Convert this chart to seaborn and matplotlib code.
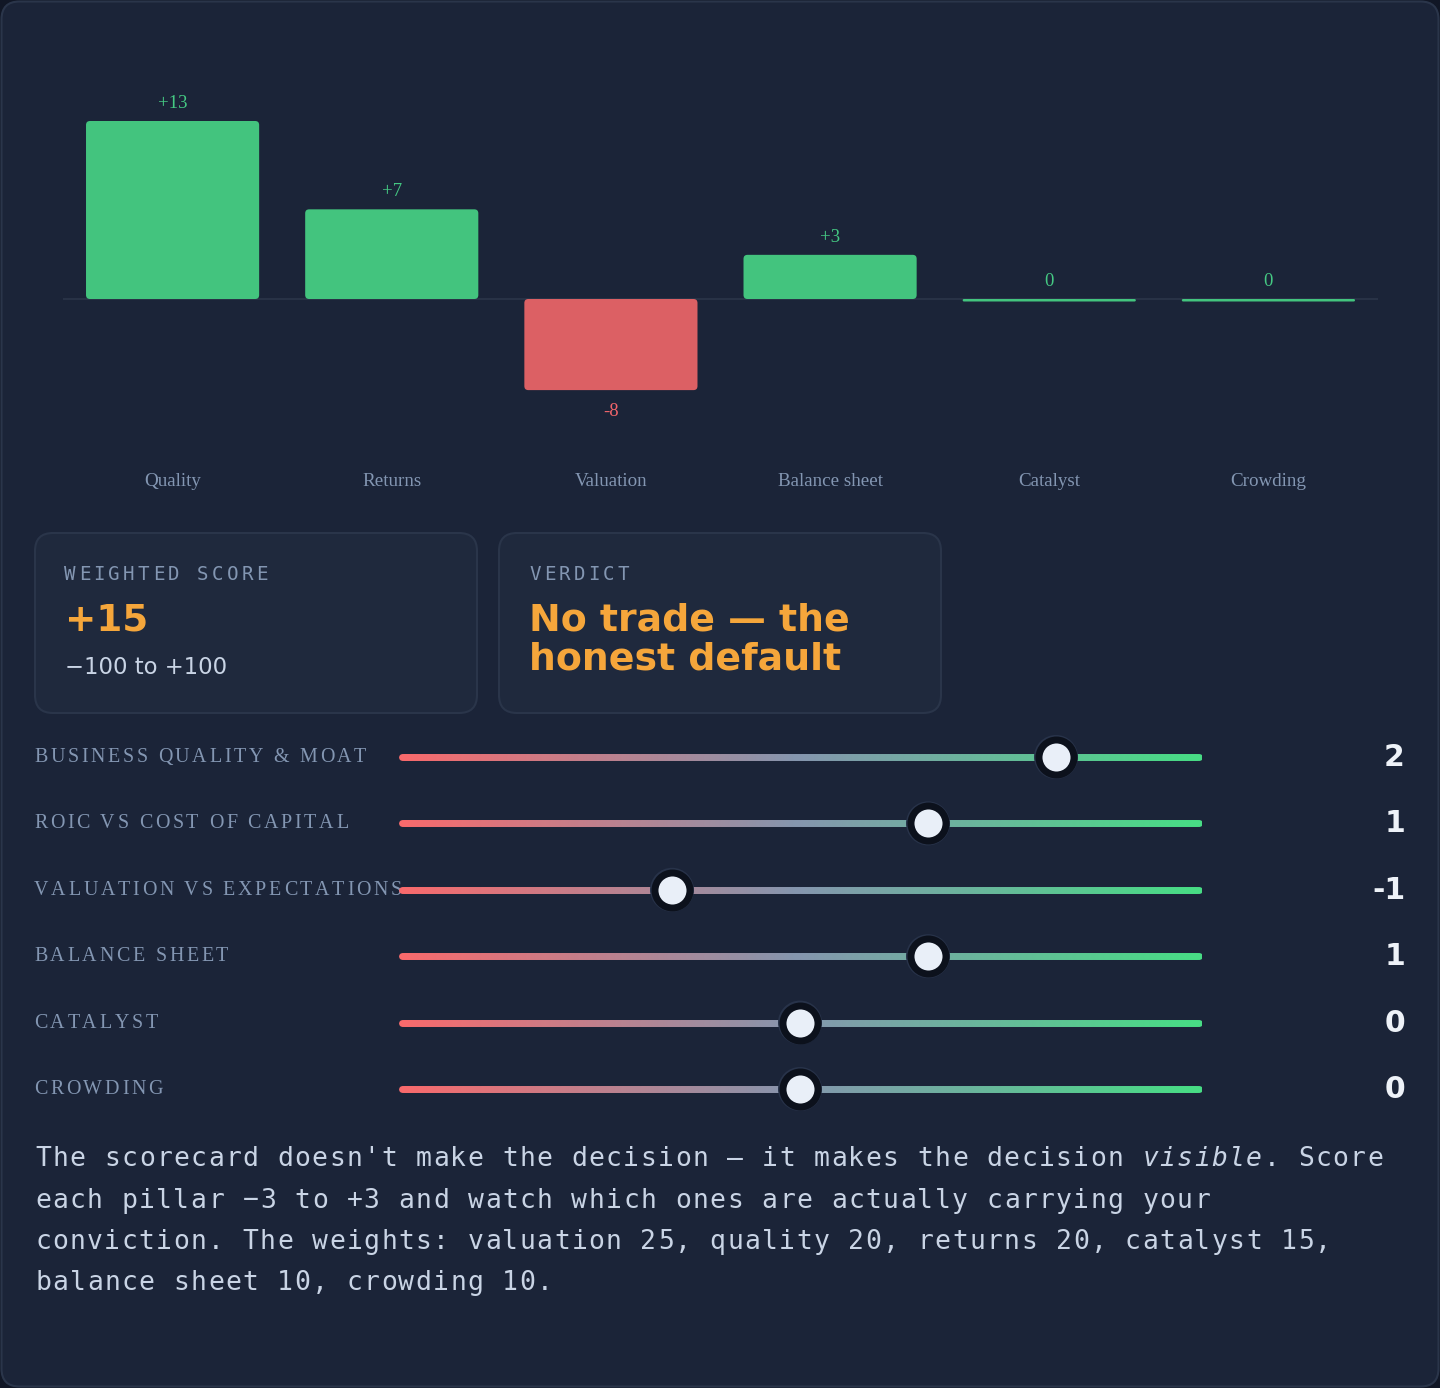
import numpy as np
import seaborn as sns
import matplotlib.pyplot as plt
from matplotlib.patches import FancyBboxPatch
from matplotlib.collections import LineCollection
from matplotlib.colors import LinearSegmentedColormap
from matplotlib.font_manager import FontProperties

pillars = ["Quality", "Returns", "Valuation", "Balance sheet", "Catalyst", "Crowding"]
contribution = [13.3, 6.7, -8.3, 3.3, 0.0, 0.0]

slider_labels = ["BUSINESS QUALITY & MOAT", "ROIC VS COST OF CAPITAL",
                 "VALUATION VS EXPECTATIONS", "BALANCE SHEET", "CATALYST", "CROWDING"]
scores = [2, 1, -1, 1, 0, 0]
score_min, score_max = -3, 3

weighted_score = "+15"
score_range_text = "\u2212100 to +100"
verdict_lines = ["No trade \u2014 the", "honest default"]

note_lines = [
    "The scorecard doesn't make the decision \u2014 it makes the decision visible. Score",
    "each pillar \u22123 to +3 and watch which ones are actually carrying your",
    "conviction. The weights: valuation 25, quality 20, returns 20, catalyst 15,",
    "balance sheet 10, crowding 10.",
]
italic_word = "visible"

# ---- colours ----
OUTSIDE = "#111726"
BG = "#1b2438"
CARD = "#1f293d"
BORDER = "#2a354a"
GREEN = "#43c47e"
RED = "#dc6064"
GREEN_TXT = "#45c983"
RED_TXT = "#f0646a"
MUTED = "#8396b2"
SOFT = "#c9d4e5"
ORANGE = "#f5a63b"
WHITE = "#eef2f8"

sns.set_theme(style="white")
plt.rcParams["font.family"] = ["DejaVu Sans"]

W, H = 1440, 1388
fig = plt.figure(figsize=(W / 100, H / 100), dpi=100, facecolor=OUTSIDE)
bg = fig.add_axes([0, 0, 1, 1])
bg.set_xlim(0, W)
bg.set_ylim(H, 0)
bg.axis("off")
renderer = fig.canvas.get_renderer()


def px_axes(x0, y0, x1, y1):
    a = fig.add_axes([x0 / W, 1 - y1 / H, (x1 - x0) / W, (y1 - y0) / H])
    a.patch.set_alpha(0)
    return a


def rbox(x, y, w, h, r, fc, ec="none", lw=0, target=None, **kw):
    p = FancyBboxPatch((x, y), w, h, boxstyle=f"round,pad=0,rounding_size={r}",
                       fc=fc, ec=ec, lw=lw, transform=bg.transData, clip_on=False, **kw)
    (target or bg).add_patch(p)
    return p


def spaced_text(x, y, s, spacing, **kw):
    # letter-spaced text drawn one glyph at a time, measured with the renderer
    prop = FontProperties(family=kw.get("family"), size=kw.get("fontsize"),
                          style=kw.get("style", "normal"), weight=kw.get("weight", "normal"))
    base = renderer.get_text_width_height_descent("xx", prop, ismath=False)[0]
    for ch in s:
        bg.text(x, y, ch, va="baseline", ha="left", **kw)
        adv = renderer.get_text_width_height_descent("x" + ch + "x", prop, ismath=False)[0] - base
        x += adv + spacing


def mono_text(x, y, s, advance, italic=None, **kw):
    start = s.find(italic) if italic else -1
    for i, ch in enumerate(s):
        style = "italic" if start >= 0 and start <= i < start + len(italic) else "normal"
        bg.text(x + i * advance, y, ch, va="baseline", ha="left",
                family="DejaVu Sans Mono", style=style, **kw)


# outer panel
rbox(1.5, 1.5, W - 3, H - 3, 18, BG, BORDER, 1.5)

# ---- contribution bars ----
ax = px_axes(63, 121, 1378, 445)
k_neg = 146 / 178


def fwd(y):
    y = np.asarray(y, dtype=float)
    return np.where(y >= 0, y, y * k_neg)


def inv(u):
    u = np.asarray(u, dtype=float)
    return np.where(u >= 0, u, u / k_neg)


bar_colors = [GREEN if v >= 0 else RED for v in contribution]
sns.barplot(x=pillars, y=contribution, hue=pillars, palette=bar_colors, legend=False,
            width=0.79, ax=ax, saturation=1)
ax.set_yscale("function", functions=(fwd, inv))
ymax = max(abs(v) for v in contribution)
ax.set_ylim(-ymax, ymax)
ax.set_xlim(-0.5, len(pillars) - 0.5)
ax.axis("off")
ax.axhline(0, color="#283246", lw=1.5, zorder=1)

to_bg = ax.transData + bg.transData.inverted()
for p in list(ax.patches):
    i = int(round(p.get_x() + p.get_width() / 2))
    v = contribution[i]
    (xa, ya), (xb, yb) = to_bg.transform([(p.get_x(), 0), (p.get_x() + p.get_width(), v)])
    top, bot = min(ya, yb), max(ya, yb)
    if bot - top < 2.5:
        top, bot = ya, ya + 2.5
    h = bot - top
    rbox(xa, top, xb - xa, h, min(4, h / 2), p.get_facecolor(), target=ax, zorder=2)
    p.remove()

for i, v in enumerate(contribution):
    r = int(round(v))
    label = "0" if r == 0 else f"{r:+d}"
    ax.annotate(label, xy=(i, v), xytext=(0, 13 if v >= 0 else -26),
                textcoords="offset pixels", ha="center", va="baseline",
                color=GREEN_TXT if v >= 0 else RED_TXT, fontsize=13.5,
                family="Liberation Serif", annotation_clip=False)
    ax.text(i, (445 - 486) / 324, pillars[i], transform=ax.get_xaxis_transform(),
            ha="center", va="baseline", color=MUTED, fontsize=13.7,
            family="Liberation Serif")

# ---- summary cards ----
rbox(35, 533, 442, 180, 18, CARD, BORDER, 1.5)
rbox(499, 533, 442, 180, 18, CARD, BORDER, 1.5)
mono_text(64, 580, "WEIGHTED SCORE", 14.8, fontsize=13.8, color=MUTED)
mono_text(529, 580, "VERDICT", 14.8, fontsize=13.8, color=MUTED)
bg.text(65, 630, weighted_score, va="baseline", ha="left", fontsize=26.8,
        weight="bold", color=ORANGE)
bg.text(65, 674, score_range_text, va="baseline", ha="left", fontsize=16.4, color=SOFT)
for j, line in enumerate(verdict_lines):
    bg.text(529, 630 + j * 39, line, va="baseline", ha="left", fontsize=27.3,
            weight="bold", color=ORANGE)

# ---- sliders ----
row_top, row_step = 757, 66.4
n = len(scores)
ax_s = px_axes(398, row_top - row_step / 2, 1202, row_top + row_step * (n - 0.5))
thumb_inset = 18 / 128
ax_s.set_xlim(score_min - thumb_inset, score_max + thumb_inset)
ax_s.set_ylim(n - 0.5, -0.5)
ax_s.axis("off")

track_cmap = LinearSegmentedColormap.from_list("track", ["#f86a6c", "#8596ae", "#48dc85"])
tx = np.linspace(score_min - 14.5 / 128, score_max + 14.5 / 128, 260)
for r in range(n):
    segs = [[(tx[j], r), (tx[j + 1], r)] for j in range(len(tx) - 1)]
    lc = LineCollection(segs, colors=track_cmap(np.linspace(0, 1, len(segs))),
                        linewidths=5.0, capstyle="round", zorder=1)
    ax_s.add_collection(lc)

rows = list(range(n))
sns.scatterplot(x=scores, y=rows, ax=ax_s, s=1004, color="#28334a", edgecolor="none",
                legend=False, zorder=3)
sns.scatterplot(x=scores, y=rows, ax=ax_s, s=635, color="#e9eff8", edgecolor="#0c111c",
                linewidth=5.0, legend=False, zorder=4)
ax_s.set_xlim(score_min - thumb_inset, score_max + thumb_inset)
ax_s.set_ylim(n - 0.5, -0.5)
ax_s.axis("off")

s_to_bg = ax_s.transData + bg.transData.inverted()
for r, (lab, sc) in enumerate(zip(slider_labels, scores)):
    y = s_to_bg.transform((0, r))[1]
    spaced_text(34, y + 5, lab, 2.7, family="Liberation Serif", fontsize=14.4, color=MUTED)
    bg.text(1405, y + 9, f"{sc}", ha="right", va="baseline", fontsize=21.5,
            weight="bold", color=WHITE)

# ---- note ----
for j, line in enumerate(note_lines):
    mono_text(35, 1166 + j * 41.5, line, 17.3, italic=italic_word if j == 0 else None,
              fontsize=19, color=SOFT)

fig.savefig("out.png", dpi=100, facecolor=OUTSIDE)
